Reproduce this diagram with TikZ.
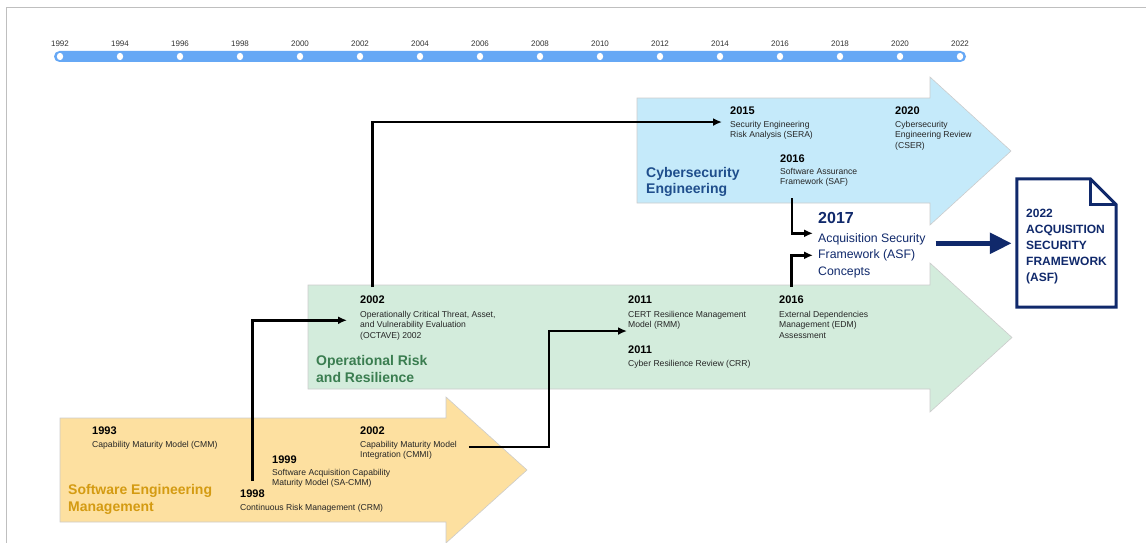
\documentclass[tikz,border=0pt]{standalone}
\usepackage{fontspec}
\setmainfont{Liberation Sans}
\usetikzlibrary{positioning,arrows.meta}

\definecolor{semfill}{HTML}{FDE0A0}
\definecolor{semtext}{HTML}{D49B12}
\definecolor{orrfill}{HTML}{D3ECDC}
\definecolor{orrtext}{HTML}{3A7D50}
\definecolor{csefill}{HTML}{C5EAFA}
\definecolor{csetext}{HTML}{1F4E8C}
\definecolor{asfnavy}{HTML}{10296B}
\definecolor{barblue}{HTML}{66A8F5}

\tikzstyle{year}=[font=\fontsize{11}{13}\selectfont\bfseries,
                        inner sep=0pt,
                        anchor=base west]
\tikzstyle{desc}=[font=\fontsize{8.6}{10.5}\selectfont,
                        text=black!85,
                        align=left,
                        inner sep=0pt,
                        anchor=base west]
\tikzstyle{title}=[font=\fontsize{14}{16.5}\selectfont\bfseries,
                        align=left,
                        inner sep=0pt,
                        anchor=base west]
\tikzstyle{band}=[draw=black!20,
                        line width=0.6pt]
\tikzstyle{link}=[->,
                        line width=2.6pt]

\begin{document}
\begin{tikzpicture}[x=1pt,y=-1pt,>={Latex[length=9pt,width=8pt]}]
  \useasboundingbox (0,0) rectangle (1146,543);
  \draw[black!25, line width=1.5pt] (6.7,543) -- (6.7,7.3) -- (1146,7.3);

  % timeline
  \fill[barblue, rounded corners=5.5pt] (54,51) rectangle (966,62);
  \foreach \i in {0,...,15} {
    \pgfmathtruncatemacro{\yr}{1992+2*\i}
    \fill[white] (60+60*\i,56.5) ellipse (3.2pt and 3.6pt);
    \node (t\i) [font=\fontsize{8}{9}\selectfont, text=black!80, inner sep=0pt, anchor=base] at (60+60*\i,47) {\yr};
  }

  % the three bands
  \path[band, fill=semfill] (60,418) -- (446,418) -- (446,397) -- (527,470) -- (446,543) -- (446,522) -- (60,522) -- cycle;
  \path[band, fill=orrfill] (308,285) -- (930,285) -- (930,263) -- (1012,337.5) -- (930,412) -- (930,389) -- (308,389) -- cycle;
  \path[band, fill=csefill] (637,98) -- (930,98) -- (930,77) -- (1011,151) -- (930,225) -- (930,203) -- (637,203) -- cycle;

  % (a node with several lines sits on the baseline of its last line)
  \node (semname) [title, text=semtext] at (68,511) {Software Engineering\\Management};
  \node (orrname) [title, text=orrtext] at (316,382) {Operational Risk\\and Resilience};
  \node (csename) [title, text=csetext] at (646,193.5) {Cybersecurity\\Engineering};

  % Software Engineering Management
  \node (y1993) [year] at (92,434) {1993};
  \node (cmm) [desc, below=13pt of y1993.base west, anchor=base west] {Capability Maturity Model (CMM)};
  \node (y2002s) [year] at (360,434) {2002};
  \node (cmmi) [desc, below=23.5pt of y2002s.base west, anchor=base west] {Capability Maturity Model\\Integration (CMMI)};
  \node (y1999) [year] at (272,463) {1999};
  \node (sacmm) [desc, below=22.5pt of y1999.base west, anchor=base west] {Software Acquisition Capability\\Maturity Model (SA-CMM)};
  \node (y1998) [year] at (240,497) {1998};
  \node (crm) [desc, below=13pt of y1998.base west, anchor=base west] {Continuous Risk Management (CRM)};

  % Operational Risk and Resilience
  \node (y2002o) [year] at (360,303) {2002};
  \node (octave) [desc, below=35pt of y2002o.base west, anchor=base west] {Operationally Critical Threat, Asset,\\and Vulnerability Evaluation\\(OCTAVE) 2002};
  \node (y2011a) [year] at (628,303) {2011};
  \node (rmm) [desc, below=24.5pt of y2011a.base west, anchor=base west] {CERT Resilience Management\\Model (RMM)};
  \node (y2011b) [year] at (628,353) {2011};
  \node (crr) [desc, below=13pt of y2011b.base west, anchor=base west] {Cyber Resilience Review (CRR)};
  \node (y2016e) [year] at (779,303) {2016};
  \node (edm) [desc, below=35pt of y2016e.base west, anchor=base west] {External Dependencies\\Management (EDM)\\Assessment};

  % Cybersecurity Engineering
  \node (y2015) [year] at (730,114) {2015};
  \node (sera) [desc, below=23.5pt of y2015.base west, anchor=base west] {Security Engineering\\Risk Analysis (SERA)};
  \node (y2020) [year] at (895,114) {2020};
  \node (cser) [desc, below=34pt of y2020.base west, anchor=base west] {Cybersecurity\\Engineering Review\\(CSER)};
  \node (y2016s) [year] at (780,162) {2016};
  \node (saf) [desc, below=22.5pt of y2016s.base west, anchor=base west] {Software Assurance\\Framework (SAF)};

  % ASF concepts and the framework
  \node (y2017) [year, font=\fontsize{16}{18}\selectfont\bfseries, text=asfnavy] at (818,223) {2017};
  \node (asf) [desc, font=\fontsize{12.3}{16.5}\selectfont, text=asfnavy, below=52pt of y2017.base west, anchor=base west] {Acquisition Security\\Framework (ASF)\\Concepts};

  \node (doc) [minimum width=99pt, minimum height=128pt, inner sep=0pt] at (1066.5,243) {};
  \draw[asfnavy, line width=3pt, line join=miter]
    (doc.north west) -- ([xshift=-26pt]doc.north east) -- ([yshift=-26pt]doc.north east)
    -- (doc.south east) -- (doc.south west) -- cycle;
  \draw[asfnavy, line width=3pt, line join=miter]
    ([xshift=-26pt]doc.north east) |- ([yshift=-26pt]doc.north east);
  \node (docname) [desc, font=\fontsize{12}{16}\selectfont\bfseries, text=asfnavy] at (1026,281) {2022\\ACQUISITION\\SECURITY\\FRAMEWORK\\(ASF)};

  % The milestones are now connected through arrows:
  \draw[link, shorten <=8pt] (y1998.north) |- ([xshift=-13pt,yshift=5pt]octave.west);
  \draw[link, shorten <=8pt] (y2002o.north) |- ([xshift=-8pt,yshift=8pt]sera.west);
  \draw[link] ([xshift=12pt,yshift=3pt]cmmi.east) -- ++(80,0) |- ([xshift=-1pt,yshift=-11pt]rmm.west);
  \draw[link] ([xshift=12pt,yshift=-12pt]saf.south west) |- ([xshift=-5pt,yshift=22pt]asf.west);
  \draw[link, shorten <=8pt] (y2016e.north) |- ([xshift=-5pt]asf.west);
  \draw[asfnavy, line width=5.5pt, -{Triangle[length=22pt,width=20pt]}, shorten >=5pt]
    ([xshift=10pt,yshift=12pt]asf.east) -- ([yshift=12pt]asf.east -| doc.west);
\end{tikzpicture}
\end{document}
